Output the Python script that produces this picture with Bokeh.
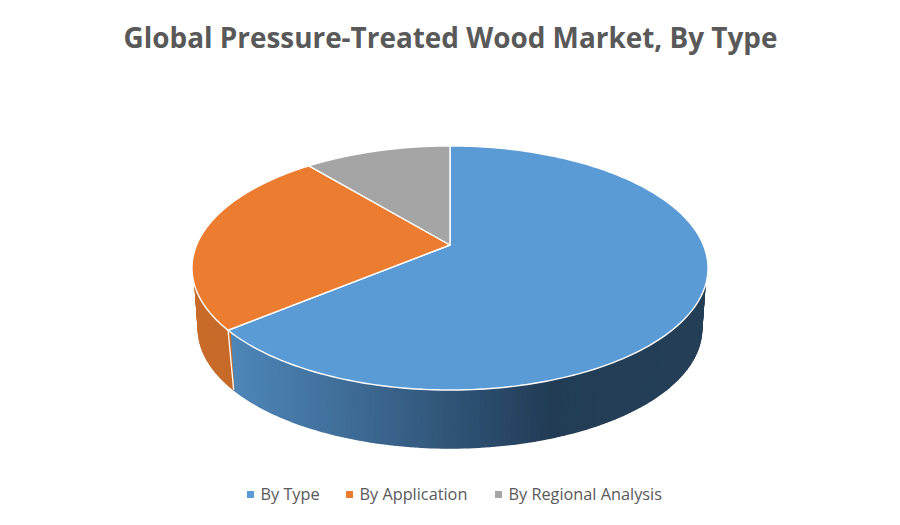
import numpy as np
from bokeh.plotting import figure
from bokeh.models import Range1d, ColumnDataSource
from bokeh.core.properties import value
from bokeh.embed import file_html
from bokeh.resources import INLINE

title_text = "Global Pressure-Treated Wood Market, By Type"
categories = ["By Type", "By Application", "By Regional Analysis"]
shares = [64, 25, 11]
top_colors = ["#5B9BD5", "#EC7D30", "#A5A5A5"]
legend_x = [260, 359, 508]

# wall shading: left-to-right colour stops per slice, in screen x
wall_x = {0: [233, 300, 400, 500, 545, 610, 710], 1: [190, 233], 2: [190, 710]}
wall_rgb = {
    0: [(0x4E, 0x86, 0xB8), (0x45, 0x77, 0xA5), (0x37, 0x60, 0x87), (0x29, 0x48, 0x67),
        (0x22, 0x3C, 0x56), (0x23, 0x3E, 0x56), (0x24, 0x3F, 0x56)],
    1: [(0xC9, 0x6C, 0x2A), (0xC6, 0x6A, 0x2A)],
    2: [(0x7C, 0x7C, 0x7C), (0x7C, 0x7C, 0x7C)],
}

CX, CY = 449.5, 244.5
A, B, K = 253.4, 117.7, 0.1885
S, CY_B = 0.975, 306.0


def project(theta_deg, scale=1.0, cy=CY):
    t = np.radians(np.asarray(theta_deg, dtype=float))
    u, v = np.sin(t), np.cos(t)
    d = 1 + K * v
    return CX + scale * A * u / d, cy - scale * B * v / d


p = figure(width=884, height=509, output_backend="svg", toolbar_location=None,
           x_range=Range1d(0, 884), y_range=Range1d(509, 0),
           min_border=0, outline_line_color=None)
p.axis.visible = False
p.grid.visible = False

edges = np.concatenate([[0], np.cumsum(shares)]) / sum(shares) * 360

# side wall (upper edge tucked just under the top face)
xs, ys, cs = [], [], []
for i in range(len(shares)):
    a0, a1 = edges[i], edges[i + 1]
    grid = np.linspace(a0, a1, int(a1 - a0) + 2)
    for g0, g1 in zip(grid[:-1], grid[1:]):
        tx, ty = project([g0, g1], 0.992)
        bx, by = project([g0, g1], S, CY_B)
        mid = (tx.mean() + bx.mean()) / 2
        rgb = [np.interp(mid, wall_x[i], [c[k] for c in wall_rgb[i]]) for k in range(3)]
        xs.append([tx[0], tx[1], bx[1], bx[0]])
        ys.append([ty[0], ty[1], by[1], by[0]])
        cs.append("#%02x%02x%02x" % tuple(int(round(c)) for c in rgb))
p.patches(xs, ys, fill_color=cs, line_color=cs, line_width=1.6)

# wall dividers
for a in edges[1:3]:
    tx, ty = project([a])
    bx, by = project([a], S, CY_B)
    if np.cos(np.radians(a)) < 0:
        p.line([tx[0], bx[0]], [ty[0], by[0]], line_color="white", line_width=1.3)

# top faces
for i in range(len(shares)):
    th = np.linspace(edges[i], edges[i + 1], 200)
    x, y = project(th)
    p.patch(np.r_[CX, x], np.r_[CY, y], fill_color=top_colors[i],
            line_color="white", line_width=1.4, line_join="round")

# title
p.text([450], [36], text=[title_text], text_align="center", text_baseline="middle",
       text_font=value("Open Sans"), text_font_style="bold", text_font_size="27.9px",
       text_color="#595959")

# legend
src = ColumnDataSource(dict(x=legend_x, label=categories, color=top_colors, y=[493.5] * 3))
p.text("x", "y", text="label", source=src, text_baseline="middle",
       text_font=value("Open Sans"), text_font_size="16.3px", text_color="#595959")
p.scatter([lx - 10 for lx in legend_x], [494] * 3, marker="square", size=7,
          fill_color=top_colors, line_color=None)

open("out.html", "w").write(file_html(p, INLINE))
